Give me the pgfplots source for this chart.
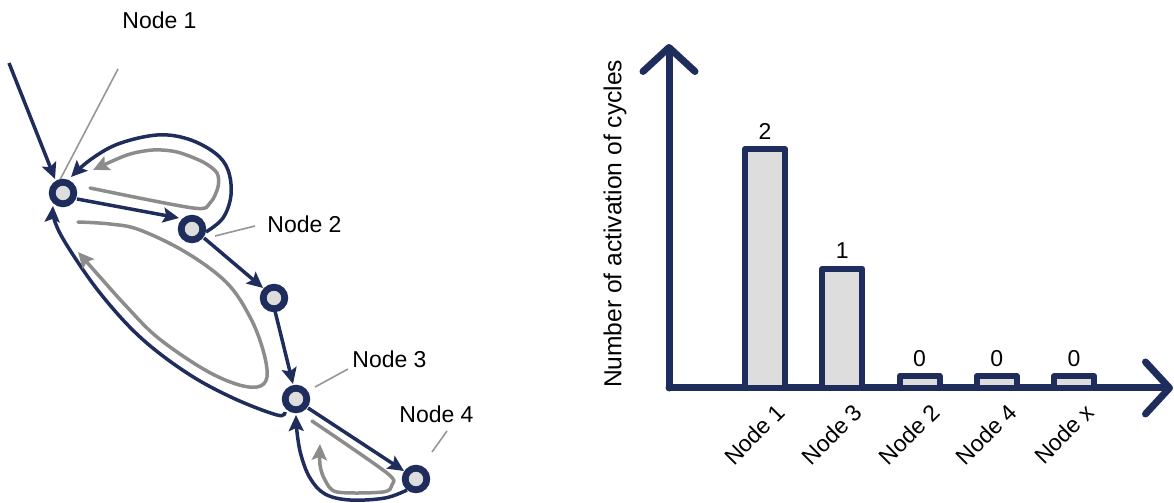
\documentclass[border=0pt]{standalone}
\usepackage{fontspec}
\setmainfont{Liberation Sans}
\usepackage{pgfplots}
\pgfplotsset{compat=1.18}
\usetikzlibrary{arrows.meta}
\definecolor{navy}{RGB}{30,45,92}
\definecolor{lgray}{RGB}{221,221,221}
\definecolor{dgray}{RGB}{140,140,140}
\definecolor{leader}{RGB}{150,150,150}

\begin{document}
\begin{tikzpicture}[font=\fontsize{11.5}{13.8}\selectfont]
\useasboundingbox (0,0) rectangle (587pt,251.5pt);
\begin{axis}[
  at={(0pt,0pt)}, anchor=south west,
  width=225pt, height=251.5pt, scale only axis,
  xmin=0, xmax=450, ymin=0, ymax=503, y dir=reverse,
  hide axis, clip=false,
  navyedge/.style={navy, line width=1.75pt, -{Stealth[length=8pt,width=7.5pt,inset=1.5pt]}},
  grayedge/.style={dgray, line width=1.75pt, line cap=round, -{Stealth[length=8pt,width=7.5pt,inset=1.5pt]}},
]
% navy edges
\addplot[navyedge] coordinates {(9,63) (55,179)};
\addplot[navyedge] coordinates {(77,199) (179,218)};
\addplot[navyedge] coordinates {(204,238) (263,288)};
\addplot[navyedge] coordinates {(275,311) (293,384)};
\addplot[navyedge] coordinates {(308,408) (404,471)};
% top loop node 2 -> node 1
\addplot[navyedge, smooth, tension=0.6] coordinates {(206,232) (223,218) (231,195) (228,170) (215,153) (188,139) (157,135) (118,144) (90,160) (71,177)};
% big loop node 3 -> node 1
\addplot[navyedge, smooth, tension=0.6] coordinates {(285,412) (277,415) (233,398) (187,373) (140,337) (100,293) (68,247) (55,222) (53,206)};
% bottom loop node 4 -> node 3
\addplot[navyedge, smooth, tension=0.6] coordinates {(407,490) (385,498) (350,500) (325,494) (310,478) (301,455) (297,432) (296,415)};
% gray loops
\addplot[grayedge, smooth, tension=0.5] coordinates {(90,188) (193,208) (210,203) (218,187) (217,173) (203,162) (177,152) (153,150) (127,155) (93,170)};
\addplot[grayedge, smooth, tension=0.6] coordinates {(78,222) (110,224) (140,230) (187,253) (227,283) (250,317) (263,350) (267,377) (257,387) (233,383) (200,367) (157,337) (127,307) (100,277) (78,252)};
\addplot[grayedge, smooth, tension=0.5] coordinates {(312,421) (387,473) (392,485) (383,492) (337,492) (325,480) (320,465) (320,444)};
% nodes
\addplot[only marks, mark=*, mark size=5.4pt, mark options={draw=navy, fill=lgray, line width=3.4pt}] coordinates {(63,193) (192,229) (274,298) (296,399) (416,479)};
% leader lines
\addplot[leader, line width=0.8pt] coordinates {(118,69) (52,195)};
\addplot[leader, line width=0.8pt] coordinates {(255,226) (215,236)};
\addplot[leader, line width=0.8pt] coordinates {(348,369) (315,387)};
\addplot[leader, line width=0.8pt] coordinates {(447,431) (432,452)};
% labels
\node[anchor=base west, inner sep=0pt] at (axis cs:122,28) {Node 1};
\node[anchor=base west, inner sep=0pt] at (axis cs:267,232) {Node 2};
\node[anchor=base west, inner sep=0pt] at (axis cs:352,367) {Node 3};
\node[anchor=base west, inner sep=0pt] at (axis cs:399,422) {Node 4};
\end{axis}

\begin{axis}[
  at={(334.5pt,57.5pt)}, anchor=south west,
  width=252pt, height=172pt, scale only axis,
  xmin=-0.243, xmax=6.28, ymin=0, ymax=2.879,
  axis lines*=left,
  axis line style={navy, line width=3.5pt, line cap=round, -{Straight Barb[length=12pt,width=26pt,round]}},
  ytick=\empty,
  xtick={1,2,3,4,5},
  xticklabels={Node 1, Node 3, Node 2, Node 4, Node x},
  major tick length=0pt,
  xticklabel style={xshift=8pt, yshift=-10pt, rotate=45, anchor=east, inner sep=0pt},
  ylabel={Number of activation of cycles},
  ylabel style={at={(axis description cs:-0.107,0.477)}, anchor=center, font=\fontsize{12.3}{14}\selectfont},
  ybar, bar width=20pt,
  nodes near coords, point meta=explicit symbolic,
  clip=false,
]
\addplot[ybar, draw=navy, fill=lgray, line width=3pt, line join=round] coordinates {(1,2) [2] (2,1) [1] (3,0.1) [0] (4,0.1) [0] (5,0.1) [0]};
\end{axis}
\end{tikzpicture}
\end{document}
